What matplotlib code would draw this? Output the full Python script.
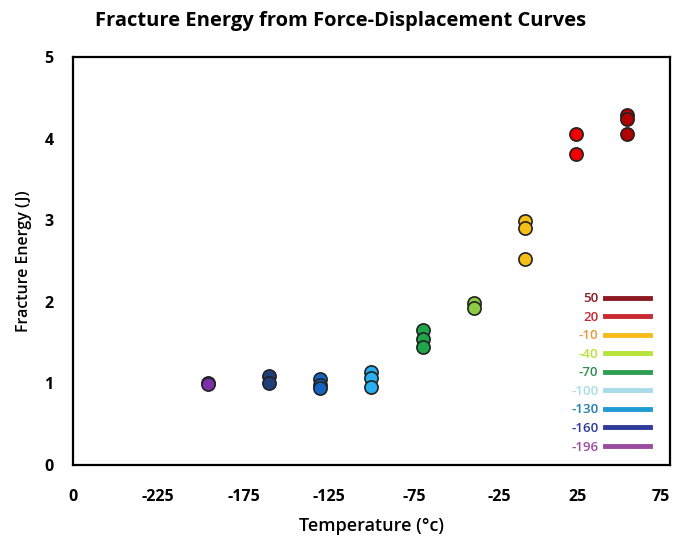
import matplotlib.pyplot as plt
from matplotlib.lines import Line2D
from matplotlib.transforms import ScaledTranslation

# measured temperatures (C) and fracture energies (J)
temps = [-196, -160, -130, -100, -70, -40, -10, 20, 50]
energies = [
    [1.00, 0.99],
    [1.09, 1.00],
    [1.05, 0.98, 0.94],
    [1.14, 1.07, 0.96],
    [1.65, 1.54, 1.45],
    [1.98, 1.92],
    [2.99, 2.90, 2.52],
    [4.05, 3.81],
    [4.29, 4.24, 4.06],
]
marker_colors = ['#7B2FA8', '#1F3F7A', '#1565C0', '#29B0F0', '#1FA64A',
                 '#8CCB45', '#F7BE16', '#F20000', '#B00000']

legend_labels = ['50', '20', '-10', '-40', '-70', '-100', '-130', '-160', '-196']
legend_colors = ['#8B1A22', '#C8282F', '#F5BC1C', '#B8E33A', '#2E9E50',
                 '#A9DCEA', '#1E9BD3', '#2E3A9C', '#9A4C9E']
legend_text_colors = ['#8B1A22', '#C8282F', '#E89A3C', '#B8E33A', '#2E8E50',
                      '#A9DCEA', '#1E7FB0', '#2E3A9C', '#9A4C9E']

xticks = [-275, -225, -175, -125, -75, -25, 25, 75]
xtick_labels = ['0', '-225', '-175', '-125', '-75', '-25', '25', '75']

plt.rcParams['font.family'] = ['Open Sans', 'DejaVu Sans']

fig = plt.figure(figsize=(6.81, 5.42), dpi=100)
ax = fig.add_axes([0.107, 0.142, 0.877, 0.753])

for t, vals, c in zip(temps, energies, marker_colors):
    ax.plot([t] * len(vals), vals, 'o', color=c, markersize=9.5,
            markeredgecolor='#222222', markeredgewidth=1.2, linestyle='none')

ax.set_xlim(-275, 75)
ax.set_ylim(0, 5)
ax.set_xticks(xticks)
ax.set_xticklabels(xtick_labels)
ax.set_yticks([0, 1, 2, 3, 4, 5])
ax.tick_params(axis='x', length=0, pad=17, labelsize=11.5)
ax.tick_params(axis='y', length=0, pad=14, labelsize=11.5)
for lab in ax.get_xticklabels() + ax.get_yticklabels():
    lab.set_fontweight('bold')
# right-hand labels sit slightly left of their ticks in the original
for lab, dx in zip(ax.get_xticklabels()[-2:], [-7, -9]):
    lab.set_transform(lab.get_transform() + ScaledTranslation(dx / 100, 0, fig.dpi_scale_trans))

for sp in ax.spines.values():
    sp.set_linewidth(1.6)
    sp.set_color('black')

ax.set_xlabel('Temperature (\u00b0c)', fontsize=13, fontweight='semibold', labelpad=9)
ax.set_ylabel('Fracture Energy (J)', fontsize=11.5, fontweight='semibold', labelpad=9)
fig.suptitle('Fracture Energy from Force-Displacement Curves', x=0.5, y=0.98,
             fontsize=14.5, fontweight='bold')

handles = [Line2D([0], [0], color=c, linewidth=3.5) for c in legend_colors]
leg = ax.legend(handles, legend_labels, loc='lower right', markerfirst=False,
                frameon=False, fontsize=9.5, handlelength=3.4, handletextpad=0.5,
                labelspacing=0.42, borderpad=0, bbox_to_anchor=(0.977, 0.012))
for txt, c in zip(leg.get_texts(), legend_text_colors):
    txt.set_color(c)
    txt.set_fontweight('semibold')
    txt.set_ha('right')

fig.savefig('out.png', dpi=100)
